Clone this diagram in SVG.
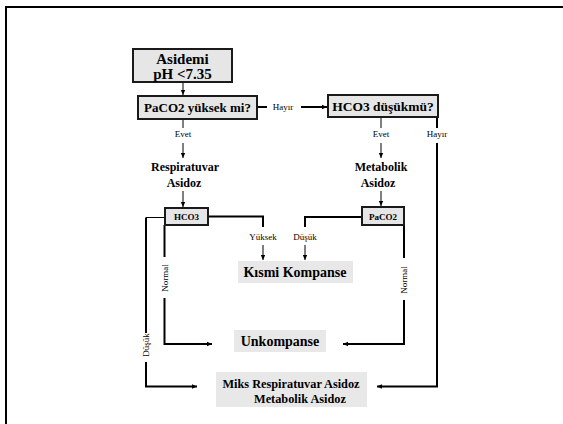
<svg xmlns="http://www.w3.org/2000/svg" width="563" height="424" viewBox="0 0 563 424">
<defs>
<marker id="ah" markerWidth="6" markerHeight="6" refX="5" refY="3" orient="auto" markerUnits="userSpaceOnUse">
<path d="M0,0.8 L5,3 L0,5.2 Z" fill="#000"/>
</marker>
<style>
.box{fill:#e6e6e6;stroke:#1a1a1a;stroke-width:2}
.gbox{fill:#e8e8e8;stroke:none}
.t{font-family:"Liberation Serif","Times New Roman",serif;font-weight:bold;fill:#000;text-anchor:middle}
.l{font-family:"Liberation Serif","Times New Roman",serif;font-size:9px;fill:#000;text-anchor:middle}
.c{fill:none;stroke:#000;stroke-width:2}
.c1{fill:none;stroke:#000;stroke-width:1}
</style>
</defs>
<rect width="563" height="424" fill="#fff"/>
<path d="M6,424 V7 H563" fill="none" stroke="#000" stroke-width="2"/>

<g id="connectors">
<path class="c1" d="M183,82 V95" marker-end="url(#ah)"/>
<path class="c" d="M257,107 H267"/>
<path class="c" d="M301,107 H327" marker-end="url(#ah)"/>
<path class="c1" d="M183,119 V128"/>
<path class="c1" d="M183,143 V158" marker-end="url(#ah)"/>
<path class="c1" d="M381,117 V128"/>
<path class="c1" d="M381,143 V158" marker-end="url(#ah)"/>
<path class="c" d="M437,117 V128"/>
<path class="c" d="M437,143 V386.5 H377" marker-end="url(#ah)"/>
<path class="c1" d="M183,191 V207" marker-end="url(#ah)"/>
<path class="c1" d="M381,191 V206" marker-end="url(#ah)"/>
<path class="c" d="M208,216.5 H263 V227"/>
<path class="c1" d="M263,245 V260" marker-end="url(#ah)"/>
<path class="c" d="M362,217 H305 V227"/>
<path class="c1" d="M305,245 V260" marker-end="url(#ah)"/>
<path class="c1" d="M165,217.5 H146"/>
<path class="c" d="M146,217.5 V333"/>
<path class="c" d="M146,362 V386.5 H197" marker-end="url(#ah)"/>
<path class="c" d="M164.5,225 V257"/>
<path class="c" d="M164.5,298 V344 H212" marker-end="url(#ah)"/>
<path class="c" d="M404,225 V258"/>
<path class="c" d="M404,300 V344 H343" marker-end="url(#ah)"/>
<text class="l" x="283" y="110">Hayır</text>
<text class="l" x="183" y="137">Evet</text>
<text class="l" x="381" y="137">Evet</text>
<text class="l" x="437" y="137">Hayır</text>
<text class="l" x="263" y="240">Yüksek</text>
<text class="l" x="305" y="240">Düşük</text>
<text class="l" transform="translate(167.5,278) rotate(-90)">Normal</text>
<text class="l" transform="translate(407,280) rotate(-90)">Normal</text>
<text class="l" transform="translate(149,345) rotate(-90)">Düşük</text>
</g>

<g id="asidemi">
<rect class="box" x="133" y="49" width="99" height="33"/>
<text class="t" x="182.5" y="63.5" font-size="15">Asidemi</text>
<text class="t" x="182.5" y="79" font-size="15">pH &lt;7.35</text>
</g>
<g id="paco2-yuksek">
<rect class="box" x="138" y="96" width="119" height="23"/>
<text class="t" x="197.5" y="112" font-size="13">PaCO2 yüksek mi?</text>
</g>
<g id="hco3-dusuk">
<rect class="box" x="328" y="95" width="110" height="22"/>
<text class="t" x="383" y="111" font-size="13.5">HCO3 düşükmü?</text>
</g>
<g id="resp-asidoz">
<text class="t" x="185" y="171" font-size="12">Respiratuvar</text>
<text class="t" x="184" y="187" font-size="12">Asidoz</text>
</g>
<g id="metab-asidoz">
<text class="t" x="381" y="171" font-size="12">Metabolik</text>
<text class="t" x="378" y="187" font-size="12">Asidoz</text>
</g>
<g id="hco3">
<rect class="box" x="165" y="208" width="43" height="17"/>
<text class="t" x="186.5" y="220" font-size="9">HCO3</text>
</g>
<g id="paco2">
<rect class="box" x="362" y="207" width="42" height="18"/>
<text class="t" x="383" y="219.5" font-size="9">PaCO2</text>
</g>
<g id="kismi">
<rect class="gbox" x="238" y="261" width="115" height="22"/>
<text class="t" x="295" y="277" font-size="14">Kısmi Kompanse</text>
</g>
<g id="unkompanse">
<rect class="gbox" x="234" y="330" width="92" height="22"/>
<text class="t" x="280" y="346" font-size="14">Unkompanse</text>
</g>
<g id="miks">
<rect class="gbox" x="216" y="372" width="151" height="35"/>
<text class="t" x="291" y="388" font-size="12.3">Miks Respiratuvar Asidoz</text>
<text class="t" x="300" y="403" font-size="12.3">Metabolik Asidoz</text>
</g>
</svg>
